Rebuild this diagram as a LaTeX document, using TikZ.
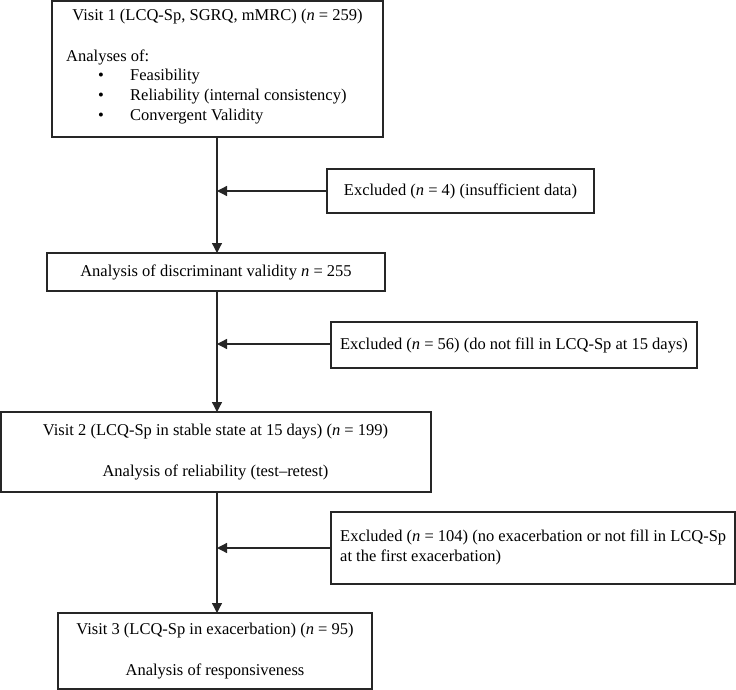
\documentclass[tikz,border=0pt]{standalone}
\usepackage{fontspec}
\setmainfont{Liberation Serif}
\usetikzlibrary{arrows.meta}
\begin{document}
\begin{tikzpicture}[x=1pt,y=-1pt,
  box/.style={draw=black!85,line width=1.3pt,rectangle,inner sep=0pt,anchor=center},
  txt/.style={font=\fontsize{16.5}{20}\selectfont,inner sep=0pt},
  conn/.style={draw=black!85,line width=1.3pt},
  arr/.style={conn,-{Triangle[length=10pt,width=10pt]}}]
\useasboundingbox (0,0) rectangle (736,690);
% boxes
\node[box,minimum width=331pt,minimum height=136pt] (v1) at (217.5,69) {};
\node[box,minimum width=338pt,minimum height=38pt] (b2) at (216,272) {};
\node[box,minimum width=267pt,minimum height=44pt] (e1) at (460.5,191) {};
\node[box,minimum width=366pt,minimum height=46pt] (e2) at (514,345) {};
\node[box,minimum width=430pt,minimum height=80pt] (v2) at (216,452) {};
\node[box,minimum width=404pt,minimum height=72pt] (e3) at (533,548) {};
\node[box,minimum width=314pt,minimum height=76pt] (v3) at (215,651) {};
% texts of visit 1
\node[txt] (t1) at (217.5,17) {Visit 1 (LCQ-Sp, SGRQ, mMRC) (\textit{n} = 259)};
\node[txt,anchor=west] (t2) at (66,57) {Analyses of:};
\node[txt] (bu1) at (101,77) {•};
\node[txt] (bu2) at (101,97) {•};
\node[txt] (bu3) at (101,117) {•};
\node[txt,anchor=west] (i1) at (130,77) {Feasibility};
\node[txt,anchor=west] (i2) at (130,97) {Reliability (internal consistency)};
\node[txt,anchor=west] (i3) at (130,117) {Convergent Validity};
% other texts
\node[txt] (tb2) at (b2.center) {Analysis of discriminant validity \textit{n} = 255};
\node[txt] (te1) at (e1.center) {Excluded (\textit{n} = 4) (insufficient data)};
\node[txt] (te2) at (e2.center) {Excluded (\textit{n} = 56) (do not fill in LCQ-Sp at 15 days)};
\node[txt] (tv2a) at (215.5,432) {Visit 2 (LCQ-Sp in stable state at 15 days) (\textit{n} = 199)};
\node[txt] (tv2b) at (215.5,472) {Analysis of reliability (test–retest)};
\node[txt,anchor=west] (te3a) at (340,537) {Excluded (\textit{n} = 104) (no exacerbation or not fill in LCQ-Sp};
\node[txt,anchor=west] (te3b) at (340,557) {at the first exacerbation)};
\node[txt] (tv3a) at (215,631) {Visit 3 (LCQ-Sp in exacerbation) (\textit{n} = 95)};
\node[txt] (tv3b) at (215,671) {Analysis of responsiveness};
% connectors
\coordinate (m1) at (217,191);
\coordinate (m2) at (217,344);
\coordinate (m3) at (217,548);
\draw[arr] (217,137) -- (217,253);
\draw[arr] (217,291) -- (217,412);
\draw[arr] (217,492) -- (217,613);
\draw[arr] (e1.west) -- (m1);
\draw[arr] (e2.west |- m2) -- (m2);
\draw[arr] (e3.west) -- (m3);
\end{tikzpicture}
\end{document}
